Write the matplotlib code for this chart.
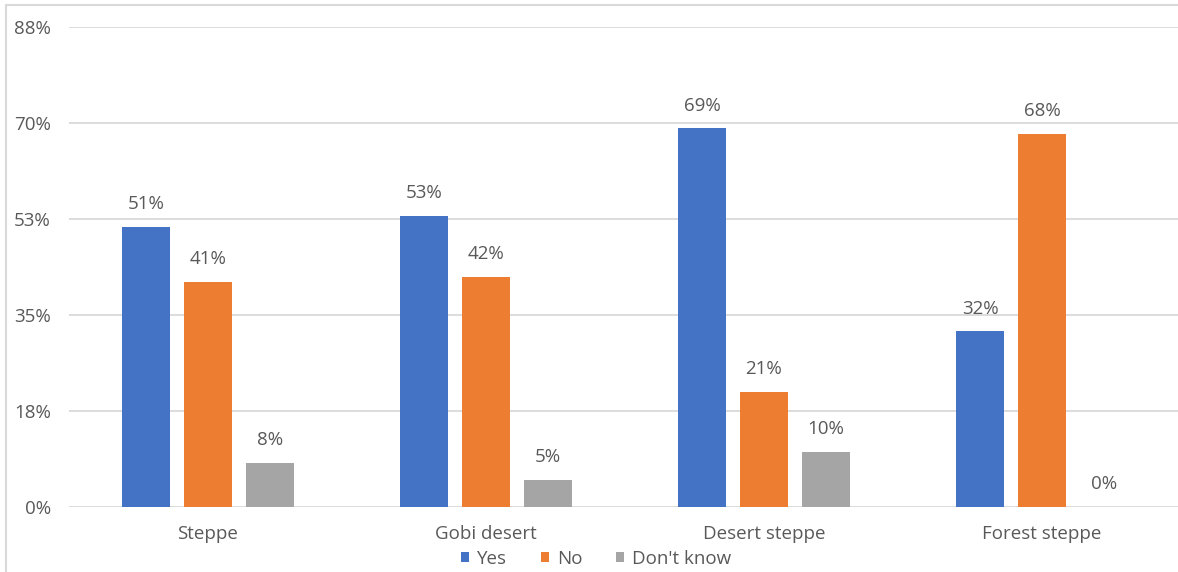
import matplotlib
matplotlib.use("Agg")
import matplotlib.pyplot as plt
import numpy as np
from matplotlib.patches import Rectangle

categories = ["Steppe", "Gobi desert", "Desert steppe", "Forest steppe"]
series_names = ["Yes", "No", "Don't know"]
yes_vals = [51, 53, 69, 32]
no_vals = [41, 42, 21, 68]
dk_vals = [8, 5, 10, 0]
ytick_vals = [0, 17.5, 35, 52.5, 70, 87.5]
ytick_labels = ["0%", "18%", "35%", "53%", "70%", "88%"]

colors = ["#4472C4", "#ED7D31", "#A5A5A5"]
text_color = "#595959"
grid_color = "#D9D9D9"

plt.rcParams["font.family"] = ["Open Sans", "DejaVu Sans"]
FS = 13.5

W, H = 1178, 572
fig = plt.figure(figsize=(W / 100, H / 100), dpi=100)

# chart outer border
fig.patches.append(Rectangle((6 / W, -0.1), 1.2, (H - 5) / H + 0.1,
                             transform=fig.transFigure, fill=False,
                             edgecolor=grid_color, linewidth=1.5))

ax = fig.add_axes([69 / W, (H - 507) / H, 1112 / W, 480 / H])
x = np.arange(len(categories))
width = 0.173
offset = 0.223
for i, (vals, name) in enumerate(zip([yes_vals, no_vals, dk_vals], series_names)):
    pos = x + (i - 1) * offset
    ax.bar(pos, vals, width=width, color=colors[i], label=name, zorder=3)
    for px, v in zip(pos, vals):
        ax.annotate(f"{v}%", (px, v), xytext=(0, 10), textcoords="offset points",
                    ha="center", va="bottom", fontsize=FS, color=text_color)

ax.set_xlim(-0.5, len(categories) - 0.5)
ax.set_ylim(0, 87.5)
ax.set_yticks(ytick_vals)
ax.set_yticklabels(ytick_labels)
ax.set_xticks(x)
ax.set_xticklabels(categories)
ax.tick_params(axis="both", length=0, labelsize=FS, colors=text_color)
ax.tick_params(axis="y", pad=13)
ax.tick_params(axis="x", pad=13)
ax.yaxis.grid(True, color=grid_color, linewidth=1.3, zorder=0)
ax.set_axisbelow(True)
for s in ax.spines.values():
    s.set_visible(False)

fig.legend(loc="center", bbox_to_anchor=(596 / W, (H - 559) / H), ncol=3,
           frameon=False, fontsize=FS, labelcolor=text_color,
           handlelength=0.45, handleheight=0.45, handletextpad=0.4,
           columnspacing=1.8)

fig.savefig("out.png", dpi=100)
